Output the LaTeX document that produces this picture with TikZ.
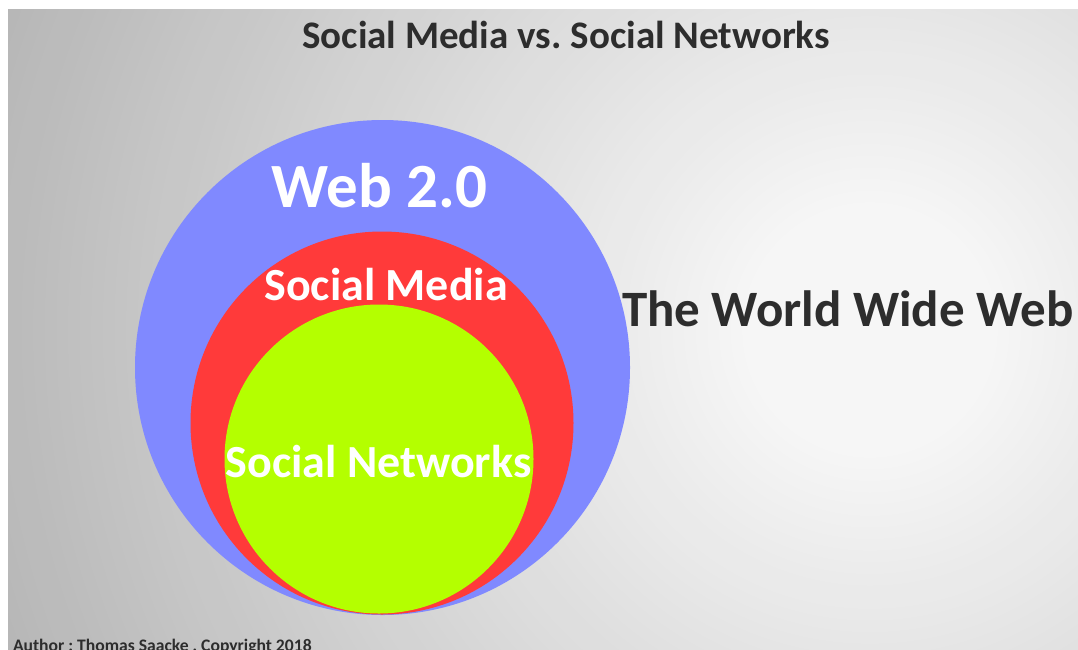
\documentclass[tikz,border=0pt]{standalone}
\usepackage{fontspec}
\setmainfont{Carlito}
\frenchspacing
\definecolor{webblue}{RGB}{128,137,255}
\definecolor{mediared}{RGB}{255,58,58}
\definecolor{netgreen}{RGB}{180,255,0}
\definecolor{darktext}{RGB}{45,45,45}
\definecolor{bglight}{RGB}{246,246,246}
\definecolor{bgdark}{RGB}{182,182,182}
\tikzset{
  lbl/.style={inner sep=0pt, outer sep=0pt, font=\bfseries},
  ring/.style={draw=none},
}
\begin{document}
\begin{tikzpicture}[x=1pt,y=-1pt]
\useasboundingbox (0,0) rectangle (1078,649);
% page and grey backdrop with a soft glow on the right
\fill[white] (0,0) rectangle (1078,649);
\begin{scope}
  \clip (8,9) rectangle (1078,649);
  \fill[bgdark] (8,9) rectangle (1078,649);
  \foreach \i in {0,...,79}{
    \pgfmathsetmacro{\rad}{930*(1-\i/80)}
    \pgfmathsetmacro{\mixp}{min(100,\i/80*100*1.15)}
    \fill[bglight!\mixp!bgdark] (870,330) circle (\rad);
  }
\end{scope}
% nested circles
\fill[ring, webblue]  (382.5,367.5) circle (247.5);
\fill[ring, mediared] (382,423) circle (191.5);
\fill[ring, netgreen] (379,459) circle (154.5);
% labels
\node[lbl, anchor=base, text=darktext, font=\bfseries\fontsize{39}{40}\selectfont] (title) at (566,48) {Social Media vs. Social Networks};
\node[lbl, anchor=base west, text=darktext, font=\bfseries\fontsize{51}{52}\selectfont] (www) at (622,326) {The World Wide Web};
\node[lbl, anchor=base, text=white, font=\bfseries\fontsize{63}{64}\selectfont] (web) at (379.5,207) {Web 2.0};
\node[lbl, anchor=base, text=white, font=\bfseries\fontsize{46}{47}\selectfont] (media) at (386,300) {Social Media};
\node[lbl, anchor=base, text=white, font=\bfseries\fontsize{46}{47}\selectfont] (nets) at (378.5,477) {Social Networks};
\node[lbl, anchor=base west, text=darktext, font=\bfseries\fontsize{17.6}{18}\selectfont] (author) at (13,651) {Author : Thomas Saacke , Copyright 2018};
\end{tikzpicture}
\end{document}
